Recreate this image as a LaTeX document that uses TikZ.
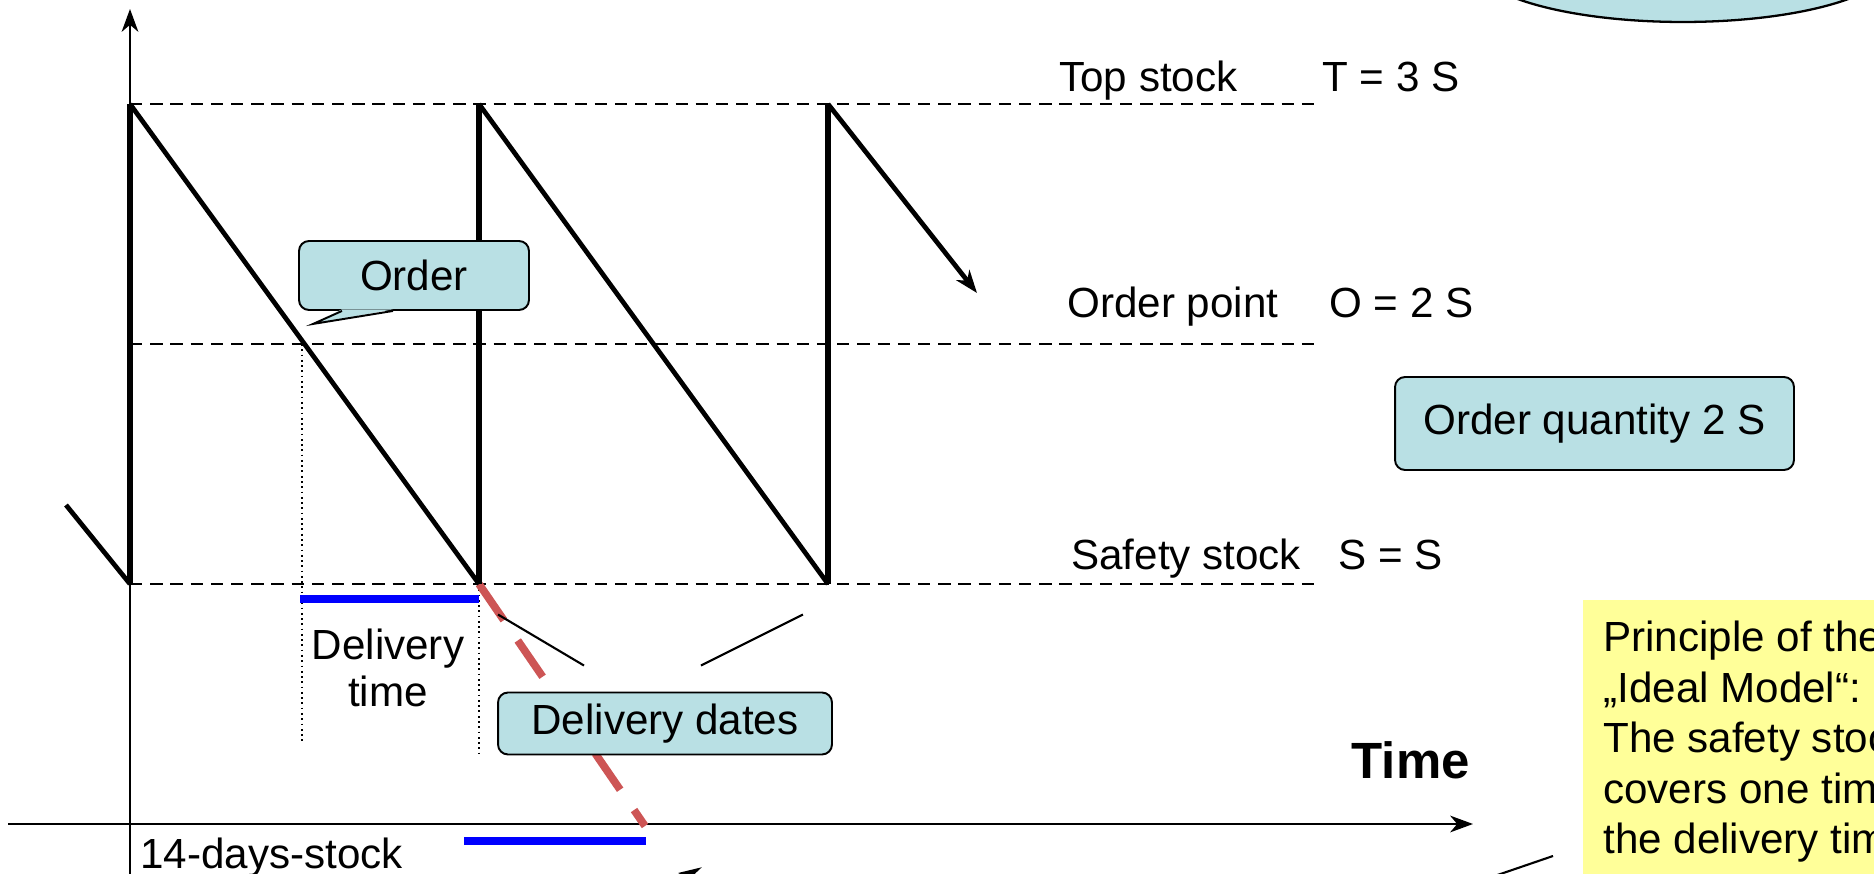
\documentclass[tikz,border=0pt]{standalone}
\usepackage{fontspec}
\setmainfont{Liberation Sans}
\usetikzlibrary{arrows.meta,calc}
\definecolor{powderblue}{RGB}{185,224,228}
\definecolor{paleyellow}{RGB}{255,255,153}
\definecolor{indianred}{RGB}{205,85,85}
\tikzset{
	levelline/.style={dash pattern=on 7pt off 4.5pt,line width=1.1pt},
	stockrise/.style={line width=3.4pt},
	stockfall/.style={line width=2.7pt},
	tipline/.style={-{Stealth[length=13pt,width=9.5pt,inset=4pt]}},
	leadbar/.style={blue,line width=5pt},
	guideline/.style={dotted,line width=1pt},
	labelbox/.style={shape=rectangle,draw=black,line width=1.1pt,
					 fill=powderblue,rounded corners=2mm},
	levellabel/.style={anchor=base west,inner sep=0pt},
}

\begin{document}
\begin{tikzpicture}[x=0.02cm,y=-0.02cm,font=\fontsize{24}{29}\selectfont]
		\useasboundingbox (0,0) rectangle (1874,874);
		\coordinate (top1) at (130,104);
		\coordinate (low0) at (130,584);
		\coordinate (top2) at (479,104);
		\coordinate (low1) at (479,584);
		\coordinate (top3) at (828,104);
		\coordinate (low2) at (828,584);
		\coordinate (lead) at (66,505);
		\coordinate (tail) at (977,293);
		\coordinate (ordercross) at (302,344);
		\coordinate (axisfoot) at (130,874);
		\coordinate (axishead) at (130,9);
		\coordinate (timefoot) at (8,824);
		\coordinate (timehead) at (1473,824);
		\coordinate (lastdate) at (645,826);
		\draw[line width=1.3pt,fill=powderblue] (1683,-38) ellipse [x radius=4.2cm,y radius=1.2cm];
		\draw[levelline] (top1) -- (1317,104);
		\draw[levelline] (130,344) -- (1317,344);
		\draw[levelline] (low0) -- (1317,584);
		\draw[line width=1.2pt,tipline] (axisfoot) -- (axishead);
		\draw[line width=1.2pt,tipline] (timefoot) -- (timehead);
		\draw[guideline] (ordercross) -- (302,743);
		\draw[guideline] (low1) -- (479,757);
		\draw[indianred,line width=4.4pt,dash pattern=on 25pt off 14pt] (low1) -- (lastdate);
		\draw[leadbar] (300,599) -- (479,599);
		\draw[leadbar] (464,841) -- (646,841);
		\draw[stockfall] (lead) -- (low0);
		\draw[stockrise] (low0) -- (top1);
		\draw[stockfall] (top1) -- (low1);
		\draw[stockrise] (low1) -- (top2);
		\draw[stockfall] (top2) -- (low2);
		\draw[stockrise] (low2) -- (top3);
		\draw[stockfall,tipline] (top3) -- (tail);
		\draw node(order)[labelbox,
						minimum width=4.6cm,minimum height=1.38cm]
			at (414,275.5) {Order};
		\fill[powderblue] ($(order.south)+(-72,-1.6)$) -- ($(order.south)+(-101,13)$)
			-- ($(order.south)+(-21,-1.6)$) -- cycle;
		\draw[line width=1.1pt] ($(order.south)+(-72,0)$) -- ($(order.south)+(-101,13)$)
			-- ($(order.south)+(-21,0)$);
		\draw node(dates)[labelbox,
						minimum width=6.68cm,minimum height=1.24cm]
			at (665,723.5) {Delivery dates};
		\draw[line width=1.2pt] ($(dates.north)+(-167,-77)$) -- ($(dates.north)+(-81,-26)$);
		\draw[line width=1.2pt] ($(dates.north)+(36,-26)$) -- ($(dates.north)+(138,-77)$);
		\draw node(quantity)[labelbox,
						minimum width=7.98cm,minimum height=1.86cm]
			at (1594.5,423.5) {Order quantity 2 S};
		\draw node(leadtime)[align=center,inner sep=0pt,
						font=\fontsize{24}{26.7}\selectfont]
			at (388,668) {Delivery\\time};
		\draw node(topstock)[levellabel] at (1059,92) {Top stock};
		\draw node(topvalue)[levellabel] at (1322,92) {T = 3 S};
		\draw node(orderpoint)[levellabel] at (1067,318) {Order point};
		\draw node(ordervalue)[levellabel] at (1329,318) {O = 2 S};
		\draw node(safety)[levellabel] at (1071,570) {Safety stock};
		\draw node(safetyvalue)[levellabel] at (1338,570) {S = S};
		\draw node(time)[anchor=base east,inner sep=0pt,
						font=\fontsize{29}{35}\selectfont\bfseries]
			at (1470,779) {Time};
		\draw node(fortnight)[levellabel] at (140,868) {14-days-stock};
		\draw node(principle)[anchor=north west,fill=paleyellow,align=left,
						inner xsep=0.4cm,inner ysep=0.42cm,
						font=\fontsize{24}{28.7}\selectfont]
			at (1583,600) {Principle of the\\„Ideal Model“:\\The safety stock\\covers one time\\the delivery time};
		\coordinate (notefoot) at (1480,881);
		\coordinate (notehead) at (1553,856);
		\draw[line width=1.2pt] (notefoot) -- (notehead);
		\coordinate (stockfoot) at (790,886);
		\coordinate (stockhead) at (678,873);
		\draw[line width=1.2pt,tipline] (stockfoot) -- (stockhead);
		\end{tikzpicture}
\end{document}
